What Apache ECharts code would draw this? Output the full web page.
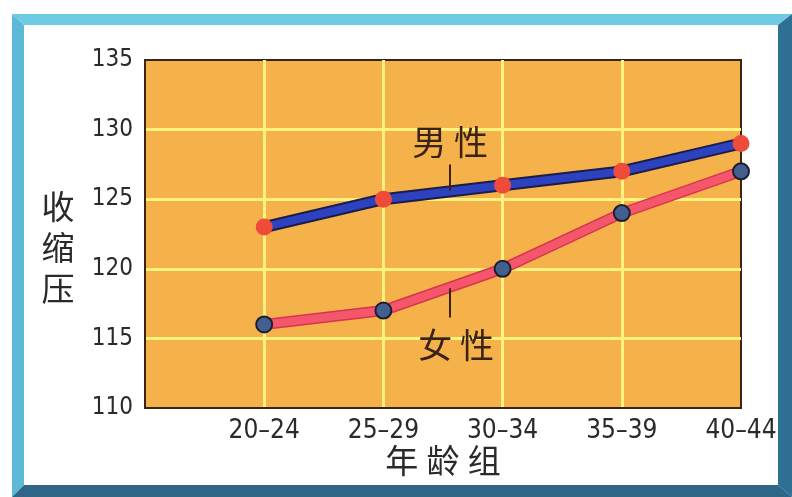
<!DOCTYPE html>
<html>
<head>
<meta charset="utf-8">
<script src="https://cdn.jsdelivr.net/npm/echarts@6/dist/echarts.min.js"></script>
<style>
  html, body { margin: 0; padding: 0; background: #ffffff; }
  #chart { width: 792px; height: 497px; }
</style>
</head>
<body>
<div id="chart"></div>
<script>
// Systolic blood pressure by age group
const ageGroups = ['20-24', '25-29', '30-34', '35-39', '40-44'];
const maleValues = [123, 125, 126, 127, 129];
const femaleValues = [116, 117, 120, 124, 127];
const yTicks = [110, 115, 120, 125, 130, 135];

const seriesNames = { male: '男 性', female: '女 性' };
const yTitle = '收\n缩\n压';

// x positions are group indices; axis starts one step before the first group
const toPairs = vals => vals.map((v, i) => [i, v]);

const CJK = '"Noto Sans CJK SC", sans-serif';
const NUM = '"DejaVu Sans Condensed", "Liberation Sans", sans-serif';
const BORDER = '#3c2414';
const GRIDLINE = '#fff27e';

const chart = echarts.init(document.getElementById('chart'), null, { renderer: 'canvas' });

const option = {
  backgroundColor: '#ffffff',
  animation: false,
  grid: {
    left: 145, right: 51, top: 60, bottom: 89,
    show: true,
    backgroundColor: '#f5b24a',
    borderColor: BORDER,
    borderWidth: 2
  },
  xAxis: {
    type: 'value',
    min: -1, max: ageGroups.length - 1, interval: 1,
    name: '年\u2005龄\u2005组',
    nameLocation: 'middle',
    nameGap: 36,
    nameMoveOverlap: false,
    nameTextStyle: { fontFamily: CJK, fontSize: 33, color: '#2a2a2a' },
    axisLine: { show: true, onZero: false, lineStyle: { color: BORDER, width: 2 } },
    axisTick: { show: false },
    axisLabel: {
      margin: 10,
      fontFamily: NUM, fontSize: 26, color: '#2a2a2a',
      formatter: v => (v >= 0 && v < ageGroups.length) ? ageGroups[v].replace('-', '–') : ''
    },
    splitLine: { show: true, showMinLine: false, showMaxLine: false, lineStyle: { color: GRIDLINE, width: 3 } }
  },
  yAxis: {
    type: 'value',
    min: yTicks[0], max: yTicks[yTicks.length - 1], interval: 5,
    axisLine: { show: true, onZero: false, lineStyle: { color: BORDER, width: 2 } },
    axisTick: { show: false },
    axisLabel: { margin: 12, fontFamily: NUM, fontSize: 24, color: '#2a2a2a' },
    splitLine: { show: true, showMinLine: false, showMaxLine: false, lineStyle: { color: GRIDLINE, width: 3 } }
  },
  series: [
    // dark casing under the male line
    {
      type: 'line', data: toPairs(maleValues), clip: false, silent: true,
      symbol: 'none', z: 2,
      lineStyle: { color: '#1c1c4a', width: 12, cap: 'round', join: 'round' }
    },
    {
      name: '男性', type: 'line', data: toPairs(maleValues), clip: false,
      z: 3,
      lineStyle: { color: '#2c42bf', width: 8, cap: 'round', join: 'round' },
      symbol: 'circle', symbolSize: 17,
      itemStyle: { color: '#ef4b3a' },
      markLine: {
        silent: true, symbol: 'none', label: { show: false },
        lineStyle: { color: BORDER, width: 2, type: 'solid' },
        data: [[{ coord: [1.56, 127.5] }, { coord: [1.56, 125.6] }]]
      }
    },
    // soft edge under the female line
    {
      type: 'line', data: toPairs(femaleValues), clip: false, silent: true,
      symbol: 'none', z: 2,
      lineStyle: { color: '#d8344e', width: 11, cap: 'round', join: 'round' }
    },
    {
      name: '女性', type: 'line', data: toPairs(femaleValues), clip: false,
      z: 3,
      lineStyle: { color: '#f4566c', width: 8, cap: 'round', join: 'round' },
      symbol: 'circle', symbolSize: 16,
      itemStyle: { color: '#435f8e', borderColor: '#1a1e30', borderWidth: 2 },
      markLine: {
        silent: true, symbol: 'none', label: { show: false },
        lineStyle: { color: BORDER, width: 2, type: 'solid' },
        data: [[{ coord: [1.56, 118.6] }, { coord: [1.56, 116.5] }]]
      }
    }
  ]
};

chart.setOption(option);

// series name labels placed in data space, the y-axis title, and the picture frame
const maleLabel = chart.convertToPixel({ gridIndex: 0 }, [1.56, 129.1]);
const femaleLabel = chart.convertToPixel({ gridIndex: 0 }, [1.61, 114.5]);

chart.setOption({
  graphic: [
    { type: 'polygon', shape: { points: [[12, 14], [792, 14], [778, 25], [24, 25]] }, style: { fill: '#6fcbe3' }, z: 100 },
    { type: 'polygon', shape: { points: [[12, 14], [24, 25], [24, 485], [12, 497]] }, style: { fill: '#5cb9d8' }, z: 100 },
    { type: 'polygon', shape: { points: [[792, 14], [792, 497], [778, 485], [778, 25]] }, style: { fill: '#2f6f94' }, z: 100 },
    { type: 'polygon', shape: { points: [[12, 497], [792, 497], [778, 485], [24, 485]] }, style: { fill: '#2d6687' }, z: 100 },
    {
      type: 'text', x: 58, y: 247, z: 50,
      style: { text: yTitle, fontFamily: CJK, fontSize: 33, lineHeight: 41, fill: '#2a2a2a', align: 'center', verticalAlign: 'middle' }
    },
    {
      type: 'text', x: maleLabel[0], y: maleLabel[1], z: 50,
      style: { text: seriesNames.male, fontFamily: CJK, fontSize: 34, fill: '#3a2316', align: 'center', verticalAlign: 'middle' }
    },
    {
      type: 'text', x: femaleLabel[0], y: femaleLabel[1], z: 50,
      style: { text: seriesNames.female, fontFamily: CJK, fontSize: 34, fill: '#3a2316', align: 'center', verticalAlign: 'middle' }
    }
  ]
});
</script>
</body>
</html>
